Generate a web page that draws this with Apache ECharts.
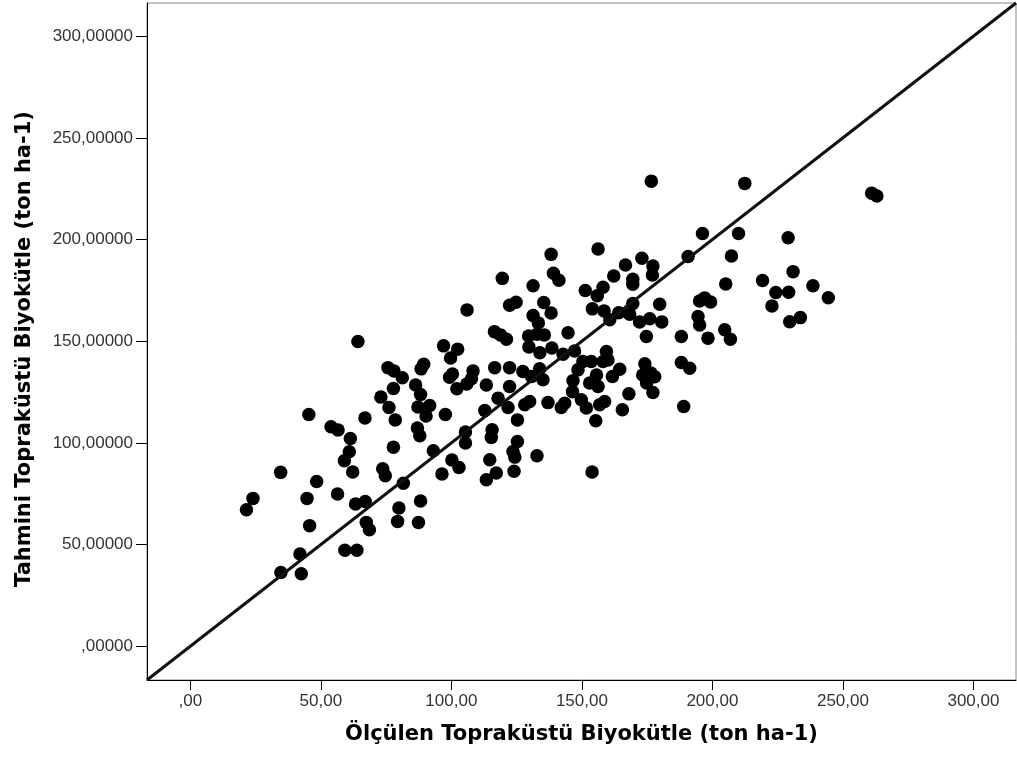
<!DOCTYPE html>
<html style="height: 100%">
<head>
    <meta charset="utf-8">
    <title>Ölçülen / Tahmini Topraküstü Biyokütle</title>
    <script type="text/javascript" src="https://cdn.jsdelivr.net/npm/echarts@6/dist/echarts.min.js"></script>
</head>
<body style="height: 100%; margin: 0; background: #fff">
    <div id="container" style="width: 1017px; height: 757px"></div>
    <script type="text/javascript">
        // ölçülen (x) ve tahmini (y) değerler, ton ha-1
        var olculen = [
            106.0, 64.2, 97.0, 102.4, 99.7, 89.4, 88.4, 75.7, 78.0, 81.2, 100.4, 99.3, 108.3, 107.7, 105.9, 102.1,
            86.3, 77.8, 88.2, 73.0, 76.1, 87.2, 91.7, 90.3, 97.7, 78.5, 45.4, 66.9, 53.9, 56.6, 61.3, 87.0, 87.9,
            105.4, 105.4, 77.8, 60.9, 59.0, 93.1, 100.2, 102.9, 96.4, 73.7, 74.7, 62.2, 34.6, 48.4, 81.6, 56.4,
            44.7, 24.0, 21.5, 63.3, 67.0, 88.2, 79.9, 45.7, 67.4, 68.6, 79.4, 87.4, 42.0, 59.2, 63.8, 34.7, 42.5,
            156.2, 138.2, 173.0, 166.7, 119.5, 139.1, 141.2, 131.3, 162.2, 169.5, 169.5, 158.1, 151.3, 155.9,
            122.3, 124.8, 135.4, 138.2, 131.3, 133.3, 154.0, 158.5, 160.7, 164.1, 168.3, 169.5, 172.1, 176.0,
            180.6, 116.5, 118.8, 121.1, 129.6, 132.8, 135.6, 144.7, 129.7, 133.9, 138.5, 142.8, 147.2, 113.4,
            116.6, 122.3, 122.3, 127.4, 130.7, 133.8, 135.1, 117.9, 121.7, 128.1, 130.0, 137.0, 142.1, 143.4,
            125.3, 112.8, 115.6, 115.3, 125.3, 123.6, 124.3, 132.8, 114.7, 117.2, 113.4, 124.0, 153.9,
            148.5, 150.4, 153.6, 155.6, 153.0, 156.2, 146.6, 146.4, 149.8, 151.7, 156.8, 158.7, 155.3, 159.4,
            160.0, 158.1, 161.7, 164.5, 165.5, 168.0, 174.1, 173.3, 176.4, 177.9, 174.8, 177.2, 174.7, 188.1,
            188.1, 191.3, 189.0,
            176.6, 212.4, 261.0, 263.0, 196.2, 210.0, 229.0, 177.2, 177.0, 190.7, 207.3, 230.9, 219.2, 205.1,
            224.3, 229.2, 238.5, 244.4, 222.8, 229.6, 233.7, 179.8, 195.1, 197.0, 199.3, 194.5, 195.1, 198.3,
            204.7, 206.9
        ];
        var tahmini = [
            165.4, 149.8, 147.7, 146.1, 141.7, 138.7, 136.4, 137.0, 135.4, 132.0, 133.9, 132.3, 135.4, 131.5, 129.0, 126.6,
            128.5, 126.7, 123.8, 122.5, 117.4, 117.6, 118.4, 113.2, 114.0, 111.3, 114.0, 112.2, 107.9, 106.3, 102.2, 107.3, 103.5,
            105.3, 99.9, 97.9, 95.6, 91.2, 96.1, 91.6, 87.9, 84.7, 87.3, 83.8, 85.7, 85.5, 81.0, 80.1, 74.9,
            72.7, 72.7, 67.1, 69.9, 71.2, 71.4, 68.0, 59.3, 60.9, 57.3, 61.4, 60.8, 45.4, 47.2, 47.2, 36.3, 35.6,
            195.3, 192.7, 190.8, 187.5, 180.9, 183.4, 180.0, 177.3, 182.1, 180.5, 178.0, 176.5, 174.9, 172.4,
            167.7, 169.2, 169.0, 163.9, 162.6, 159.0, 165.9, 164.9, 160.5, 164.0, 163.3, 168.5, 159.5, 161.0,
            159.5, 154.7, 153.1, 151.0, 152.6, 153.4, 153.1, 154.2, 147.2, 144.3, 146.7, 143.6, 145.2, 128.5,
            137.0, 137.0, 127.7, 135.1, 132.6, 136.4, 131.0, 122.0, 117.4, 118.7, 120.3, 119.8, 117.4, 119.5,
            111.3, 115.9, 106.4, 102.7, 100.7, 95.8, 93.0, 93.7, 91.7, 85.2, 81.9, 86.0, 85.7,
            135.9, 140.0, 140.0, 133.4, 129.4, 127.7, 130.6, 125.2, 121.2, 117.1, 118.7, 120.3, 110.9, 144.9,
            140.8, 140.0, 132.6, 136.2, 116.3, 124.1, 138.9, 133.4, 134.4, 132.5, 129.5, 124.8, 152.3, 152.3,
            139.5, 136.7, 117.9,
            228.7, 227.6, 222.8, 221.4, 203.0, 203.0, 200.9, 187.0, 182.6, 191.6, 191.9, 184.2, 179.8, 178.1,
            173.9, 174.1, 177.3, 171.4, 167.3, 159.6, 161.6, 168.2, 169.8, 171.3, 169.3, 162.1, 158.0, 151.5,
            155.6, 151.0
        ];
        // eksen işaretleri
        var tickValues = [0, 50, 100, 150, 200, 250, 300];
        var AX_MIN = -16.6, AX_MAX = 316.3;

        // SPSS tarzı sayı: ondalık virgül, baştaki sıfır yok
        function trNum(v, d) {
            var s = v.toFixed(d).replace('.', ',');
            return s.indexOf('0,') === 0 ? s.slice(1) : s;
        }

        var points = [];
        for (var i = 0; i < olculen.length; i++) {
            points.push([olculen[i], tahmini[i]]);
        }

        var myChart = echarts.init(document.getElementById('container'));

        var tickFont = { fontFamily: 'Liberation Sans', fontSize: 17, color: '#333' };
        var titleFont = { fontFamily: 'DejaVu Sans', fontSize: 21, fontWeight: 'bold', color: '#000' };

        var option = {
            backgroundColor: '#fff',
            animation: false,
            grid: {
                left: 147,
                right: 1,
                top: 3,
                bottom: 77,
                show: true,
                borderColor: '#888',
                borderWidth: 1,
                containLabel: false,
                outerBoundsMode: 'none'
            },
            xAxis: {
                type: 'value',
                min: AX_MIN,
                max: AX_MAX,
                name: 'Ölçülen Topraküstü Biyokütle (ton ha-1)',
                nameLocation: 'middle',
                nameGap: 44,
                nameTextStyle: titleFont,
                splitLine: { show: false },
                axisLine: { onZero: false, lineStyle: { color: '#000', width: 1 } },
                axisTick: { customValues: tickValues, length: 10, lineStyle: { color: '#000' } },
                axisLabel: Object.assign({
                    customValues: tickValues,
                    margin: 13,
                    formatter: function (v) { return trNum(v, 2); }
                }, tickFont)
            },
            yAxis: {
                type: 'value',
                min: AX_MIN,
                max: AX_MAX,
                name: 'Tahmini Topraküstü Biyokütle (ton ha-1)',
                nameLocation: 'middle',
                nameGap: 112,
                nameTextStyle: Object.assign({ padding: [0, 15, 0, 0] }, titleFont),
                splitLine: { show: false },
                axisLine: { onZero: false, lineStyle: { color: '#000', width: 1 } },
                axisTick: { customValues: tickValues, length: 11, lineStyle: { color: '#000' } },
                axisLabel: Object.assign({
                    customValues: tickValues,
                    margin: 14,
                    formatter: function (v) { return trNum(v, 5); }
                }, tickFont)
            },
            series: [
                {
                    type: 'scatter',
                    data: points,
                    symbol: 'circle',
                    symbolSize: 13.5,
                    itemStyle: { color: '#000', opacity: 1 },
                    silent: true
                },
                {
                    // y = x doğrusu
                    type: 'line',
                    data: [[AX_MIN, AX_MIN], [AX_MAX, AX_MAX]],
                    symbol: 'none',
                    lineStyle: { color: '#111', width: 3 },
                    silent: true,
                    z: 3
                }
            ]
        };
        myChart.setOption(option);
    </script>
</body>
</html>
